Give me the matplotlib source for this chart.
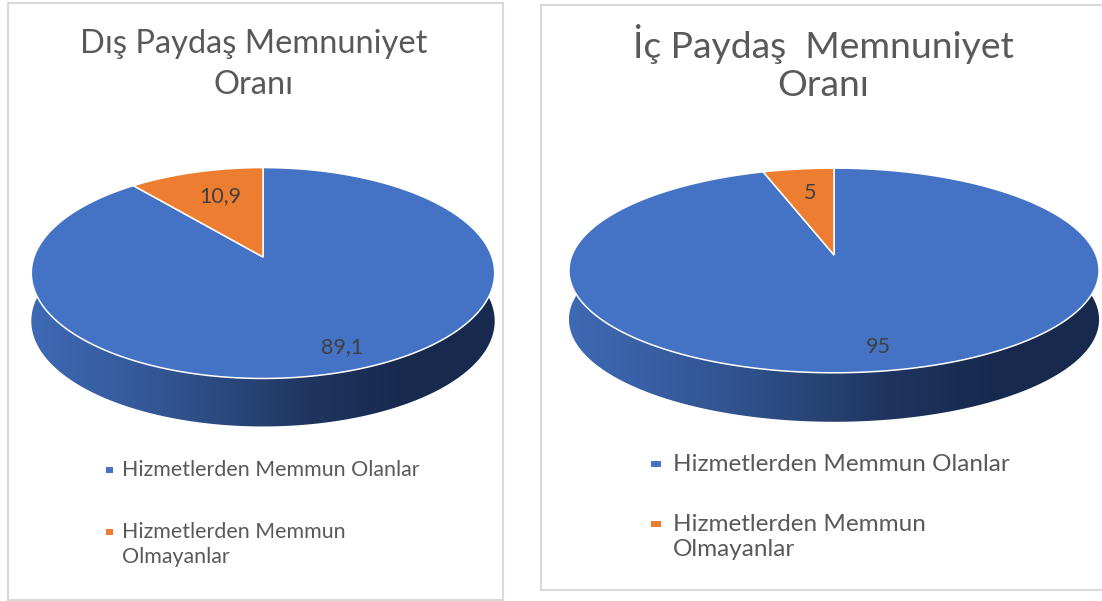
import numpy as np
import matplotlib
matplotlib.use("Agg")
import matplotlib.pyplot as plt
from matplotlib.colors import LinearSegmentedColormap
from matplotlib.patches import Rectangle, Polygon

# --------------------------------------
# Data
# --------------------------------------
legend_labels = ["Hizmetlerden Memmun Olanlar", "Hizmetlerden Memmun\nOlmayanlar"]
dis_values = [89.1, 10.9]
ic_values = [95, 5]
dis_value_labels = ["89,1", "10,9"]
ic_value_labels = ["95", "5"]
dis_title = ["Dış Paydaş Memnuniyet", "Oranı"]
ic_title = ["İç Paydaş  Memnuniyet", "Oranı"]

BLUE = "#4472C4"
ORANGE = "#ED7D31"
GREY = "#595959"
FONT = "Lato"

side_cmap = LinearSegmentedColormap.from_list(
    "side", ["#3E69B4", "#365C9F", "#2C4A80", "#1F3560", "#172A4E", "#172A4E"]
)


def project(pie, angle):
    """Clockwise angle from 12 o'clock -> pixel position on the tilted disc."""
    x = np.sin(angle)
    y = np.cos(angle)
    w = 1 + pie["k"] * y
    return pie["cx"] + pie["rx"] * x / w, pie["cy"] - pie["ry"] * y / w


def draw_pie(ax, values, pie):
    # side wall first, the top covers the upper part of it
    t = np.linspace(np.pi / 2 - 0.4, 3 * np.pi / 2 + 0.4, 300)
    px, py = project(pie, t)
    wall = np.vstack([
        np.column_stack([px, py]),
        np.column_stack([px[::-1], py[::-1] + pie["depth"]]),
    ])
    clip = Polygon(wall, closed=True, transform=ax.transData, fc="none", ec="none")
    ax.add_patch(clip)
    half = np.abs(px - pie["cx"]).max()
    im = ax.imshow(
        np.linspace(0, 1, 256).reshape(1, -1),
        cmap=side_cmap,
        extent=(pie["cx"] - half, pie["cx"] + half, 601, 0),
        aspect="auto",
        zorder=2,
    )
    im.set_clip_path(clip)

    # top surface, one polygon per slice
    edges = np.radians(np.concatenate([[0], np.cumsum(values)]) / np.sum(values) * 360)
    colors = [BLUE, ORANGE]
    for i in range(len(values)):
        a = np.linspace(edges[i], edges[i + 1], 300)
        sx, sy = project(pie, a)
        pts = np.column_stack([
            np.concatenate([[pie["cx"]], sx]),
            np.concatenate([[pie["cy"]], sy]),
        ])
        ax.add_patch(Polygon(pts, closed=True, fc=colors[i], ec="white", lw=1.1, zorder=3))


def draw_panel(ax, frame, values, value_labels, title, pie, spec):
    ax.add_patch(Rectangle(
        (frame[0], frame[1]), frame[2], frame[3],
        fc="white", ec="#D9D9D9", lw=1.5, zorder=1,
    ))
    draw_pie(ax, values, pie)

    ax.text(spec["title_x"], 44, title[0], fontsize=spec["title_fs"], color=GREY,
            family=FONT, ha="center", va="center", zorder=5)
    ax.text(spec["title_x"], 85, title[1], fontsize=spec["title_fs"], color=GREY,
            family=FONT, ha="center", va="center", zorder=5)

    for txt, pos in zip(value_labels, spec["value_pos"]):
        ax.text(pos[0], pos[1], txt, fontsize=15.5, color="#404040", family=FONT,
                ha="center", va="center", zorder=5)

    # legend
    lx = spec["legend_x"]
    for label, y, color in zip(legend_labels, spec["legend_y"], [BLUE, ORANGE]):
        ax.add_patch(Rectangle((spec["mark_x"], y - 3), spec["mark_w"], 6,
                               fc=color, ec="none", zorder=5))
        ax.text(lx, y - spec["legend_dy"], label, fontsize=spec["legend_fs"], color=GREY,
                family=FONT, ha="left", va="top", linespacing=spec["legend_ls"], zorder=5)


fig = plt.figure(figsize=(11.02, 6.01), dpi=100)
ax = fig.add_axes([0, 0, 1, 1])

draw_panel(
    ax, (8, 3, 495, 597), dis_values, dis_value_labels, dis_title,
    {"cx": 263, "cy": 257, "rx": 229, "ry": 103, "k": 0.152, "depth": 48},
    {"title_x": 254, "title_fs": 23.5, "value_pos": [(342, 347), (220, 196)],
     "legend_x": 122, "legend_y": [470, 532], "mark_x": 106, "mark_w": 7,
     "legend_fs": 15.4, "legend_ls": 1.3, "legend_dy": 10},
)
draw_panel(
    ax, (541, 5, 580, 585), ic_values, ic_value_labels, ic_title,
    {"cx": 834, "cy": 255, "rx": 262, "ry": 100, "k": 0.151, "depth": 49},
    {"title_x": 823, "title_fs": 26.8, "value_pos": [(878, 347), (810, 193)],
     "legend_x": 673, "legend_y": [464, 524], "mark_x": 651, "mark_w": 10,
     "legend_fs": 17.5, "legend_ls": 1.22, "legend_dy": 10},
)

ax.set_xlim(0, 1102)
ax.set_ylim(601, 0)
ax.axis("off")

fig.savefig("out.png", dpi=100)
